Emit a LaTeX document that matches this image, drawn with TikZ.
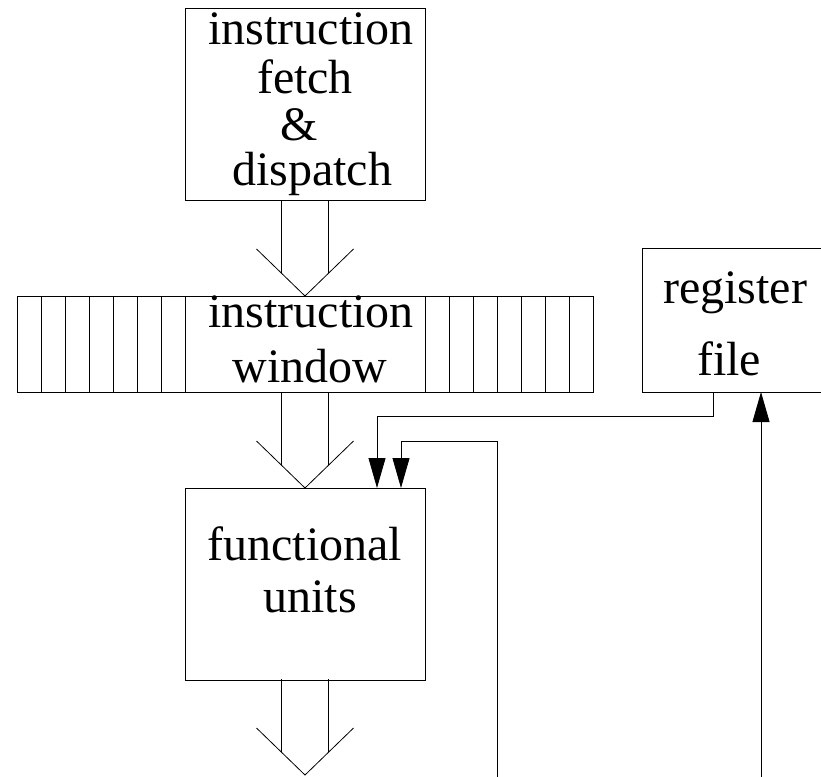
\documentclass[tikz,border=0pt]{standalone}
\usepackage{fontspec}
\setmainfont{Liberation Serif}
\usetikzlibrary{arrows.meta,calc}
\begin{document}
\begin{tikzpicture}[x=1pt,y=-1pt, line width=0.8pt,
  box/.style={draw, minimum width=240pt, inner sep=0pt, outer sep=0pt, anchor=north west},
  lbl/.style={anchor=base, inner sep=0pt, font=\fontsize{48}{48}\selectfont},
  conn/.style={-{Triangle[length=30pt,width=17pt]}},
  fatarrow/.pic={
    \draw (-23.5,-96) -- (-23.5,-22.8) (23.5,-96) -- (23.5,-22.8);
    \draw (-48.5,-47) -- (0,0) -- (48.5,-47);
  }]
\useasboundingbox (0,0) rectangle (821,776);

% boxes
\node[box, minimum height=192pt] (fetch) at (185,8) {};
\node[box, minimum width=576pt, minimum height=96pt] (win) at (17,296) {};
\foreach \i in {1,...,7,17,18,...,23}
  \draw ($(win.north west)+(24*\i,0)$) -- ($(win.south west)+(24*\i,0)$);
\node[box, minimum height=192pt] (fu) at (185,488) {};
\node[box, minimum width=182pt, minimum height=144pt] (reg) at (642,248) {};

% labels
\node[lbl] (t1) at (311,45) {instruction};
\node[lbl] (t2) at (305,93) {fetch};
\node[lbl] (t3) at (299,140) {\&};
\node[lbl] (t4) at (312,185) {dispatch};
\node[lbl] (w1) at (311,327) {instruction};
\node[lbl] (w2) at (310,382) {window};
\node[lbl] (f1) at (305,560) {functional};
\node[lbl] (f2) at (310,612) {units};
\node[lbl] (r1l) at (735,303) {register};
\node[lbl] (r2l) at (729,375) {file};

% wide arrows
\pic at (win.north) {fatarrow};
\pic at (fu.north) {fatarrow};
\pic at ($(fu.south)+(0,95)$) {fatarrow};

% connectors
\coordinate (r1) at ($(reg.south west)+(71,0)$);
\draw[conn] (r1) -- ++(0,24) -| ($(fu.north west)+(192,0)$);
\coordinate (b1) at (497,777);
\draw[conn] (b1) |- ($(fu.north west)+(216,-47)$) -- ($(fu.north west)+(216,0)$);
\coordinate (b2) at (761,777);
\draw[conn] (b2) -- (b2 |- reg.south);
\end{tikzpicture}
\end{document}
